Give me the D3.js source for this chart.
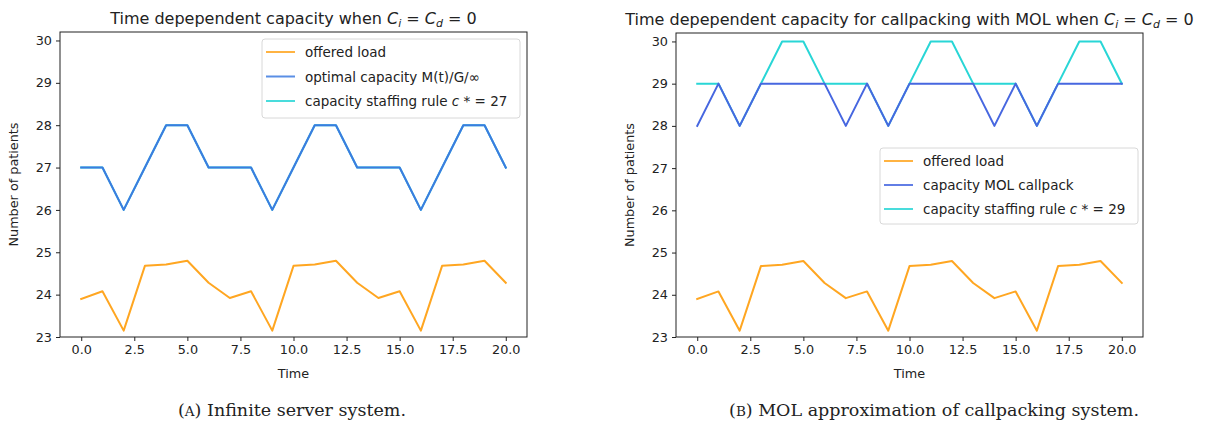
<!DOCTYPE html>
<html>
<head>
<meta charset="utf-8">
<script src="https://cdn.jsdelivr.net/npm/d3@7"></script>
<style>
  body { margin: 0; background: #fff; }
  svg text { font-family: "DejaVu Sans", sans-serif; fill: #222; }
  .caption { font-family: "DejaVu Serif", "Liberation Serif", serif; }
</style>
</head>
<body>
<svg id="fig" width="1209" height="430"></svg>
<script>
// Time steps and series
const time = d3.range(0, 21);
const offeredLoad = [23.9, 24.08, 23.15, 24.68, 24.71, 24.8, 24.28,
                     23.92, 24.08, 23.15, 24.68, 24.71, 24.8, 24.28,
                     23.92, 24.08, 23.15, 24.68, 24.71, 24.8, 24.28];
const capacityInfinite = [27, 27, 26, 27, 28, 28, 27, 27, 27, 26, 27, 28, 28, 27, 27, 27, 26, 27, 28, 28, 27];
const staffingInfinite = [27, 27, 26, 27, 28, 28, 27, 27, 27, 26, 27, 28, 28, 27, 27, 27, 26, 27, 28, 28, 27];
const capacityMOL = [28, 29, 28, 29, 29, 29, 29, 28, 29, 28, 29, 29, 29, 29, 28, 29, 28, 29, 29, 29, 29];
const staffingMOL = [29, 29, 28, 29, 30, 30, 29, 29, 29, 28, 29, 30, 30, 29, 29, 29, 28, 29, 30, 30, 29];
const xTicks = [0, 2.5, 5, 7.5, 10, 12.5, 15, 17.5, 20];
const yTicks = [23, 24, 25, 26, 27, 28, 29, 30];

const ORANGE = "#ffa621", BLUE_A = "#3d7be0", BLUE_B = "#4767e0", CYAN = "#29d6d6";
const TICK_FS = 12.8, LABEL_FS = 12.8, LEGEND_FS = 13.5, TITLE_FS = 16;

const svg = d3.select("#fig");

function panel(opts) {
  const { left, right, top, bottom } = opts.box;
  const x = d3.scaleLinear().domain([-1, 21]).range([left, right]);
  const y = d3.scaleLinear().domain([23, 30.2]).range([bottom, top]);
  const g = svg.append("g");

  // series in drawing order (capacity line last, on top)
  const line = d3.line().x((d, i) => x(time[i])).y(d => y(d));
  opts.drawOrder.forEach(s => {
    g.append("path").datum(s.values)
      .attr("d", line).attr("fill", "none")
      .attr("stroke", s.color).attr("stroke-width", 2)
      .attr("stroke-linejoin", "round").attr("stroke-linecap", "square");
  });

  // axes
  const xAxis = d3.axisBottom(x).tickValues(xTicks).tickFormat(d3.format(".1f")).tickSize(4).tickPadding(4);
  const yAxis = d3.axisLeft(y).tickValues(yTicks).tickFormat(d3.format("d")).tickSize(4).tickPadding(4);
  g.append("g").attr("transform", `translate(0,${bottom})`).call(xAxis)
    .call(a => a.select(".domain").remove());
  g.append("g").attr("transform", `translate(${left},0)`).call(yAxis)
    .call(a => a.select(".domain").remove());
  g.selectAll(".tick text").attr("font-size", TICK_FS).attr("font-family", "DejaVu Sans").attr("fill", "#222");
  g.selectAll(".tick line").attr("stroke", "#222");

  g.append("rect").attr("x", left).attr("y", top)
    .attr("width", right - left).attr("height", bottom - top)
    .attr("fill", "none").attr("stroke", "#222").attr("stroke-width", 1);

  // axis labels
  g.append("text").attr("x", (left + right) / 2).attr("y", bottom + 41)
    .attr("text-anchor", "middle").attr("font-size", LABEL_FS).text("Time");
  g.append("text").attr("transform", `translate(${left - 42},${(top + bottom) / 2}) rotate(-90)`)
    .attr("text-anchor", "middle").attr("font-size", LABEL_FS).text("Number of patients");

  // title with math subscripts
  const t = g.append("text").attr("x", (left + right) / 2).attr("y", top - 8)
    .attr("text-anchor", "middle").attr("font-size", TITLE_FS);
  t.append("tspan").text(opts.title + " ");
  t.append("tspan").attr("font-style", "italic").text("C");
  t.append("tspan").attr("font-style", "italic").attr("font-size", 11).attr("dy", 3).text("i");
  t.append("tspan").attr("dy", -3).text(" = ");
  t.append("tspan").attr("font-style", "italic").text("C");
  t.append("tspan").attr("font-style", "italic").attr("font-size", 11).attr("dy", 3).text("d");
  t.append("tspan").attr("dy", -3).text(" = 0");

  // legend
  const L = opts.legend;
  const lg = g.append("g").attr("transform", `translate(${L.x},${L.y})`);
  lg.append("rect").attr("width", L.w).attr("height", L.h).attr("rx", 3)
    .attr("fill", "#fff").attr("fill-opacity", 0.85).attr("stroke", "#d8d8d8");
  opts.legendOrder.forEach((s, i) => {
    const yy = 13 + i * L.step;
    lg.append("line").attr("x1", 4).attr("x2", 33).attr("y1", yy).attr("y2", yy)
      .attr("stroke", s.color).attr("stroke-width", 2).attr("stroke-opacity", 0.85);
    const tx = lg.append("text").attr("x", 43).attr("y", yy + 5).attr("font-size", LEGEND_FS);
    s.label(tx);
  });

  // caption
  const c = svg.append("text").attr("class", "caption")
    .attr("x", opts.caption.x).attr("y", 416).attr("text-anchor", "middle").attr("font-size", 17.5);
  c.append("tspan").text("(");
  c.append("tspan").attr("font-size", 13.5).text(opts.caption.tag);
  c.append("tspan").text(") " + opts.caption.text);
}

function staffingLabel(n) {
  return tx => {
    tx.append("tspan").text("capacity staffing rule ");
    tx.append("tspan").attr("font-style", "italic").text("c");
    tx.append("tspan").text(" * = " + n);
  };
}

// Panel A: infinite server system
const loadA = { values: offeredLoad, color: ORANGE, label: tx => tx.text("offered load") };
const capA = { values: capacityInfinite, color: BLUE_A, label: tx => tx.text("optimal capacity M(t)/G/\u221E") };
const staffA = { values: staffingInfinite, color: CYAN, label: staffingLabel(27) };
panel({
  box: { left: 60, right: 527, top: 32, bottom: 337 },
  title: "Time depependent capacity when",
  legend: { x: 262, y: 39, w: 258, h: 79, step: 24.5 },
  drawOrder: [loadA, staffA, capA],
  legendOrder: [loadA, capA, staffA],
  caption: { x: 292, tag: "A", text: "Infinite server system." }
});

// Panel B: MOL approximation of callpacking
const loadB = { values: offeredLoad, color: ORANGE, label: tx => tx.text("offered load") };
const capB = { values: capacityMOL, color: BLUE_B, label: tx => tx.text("capacity MOL callpack") };
const staffB = { values: staffingMOL, color: CYAN, label: staffingLabel(29) };
panel({
  box: { left: 676, right: 1143, top: 33, bottom: 337 },
  title: "Time depependent capacity for callpacking with MOL when",
  legend: { x: 880, y: 148, w: 258, h: 76, step: 24 },
  drawOrder: [loadB, staffB, capB],
  legendOrder: [loadB, capB, staffB],
  caption: { x: 934, tag: "B", text: "MOL approximation of callpacking system." }
});
</script>
</body>
</html>
